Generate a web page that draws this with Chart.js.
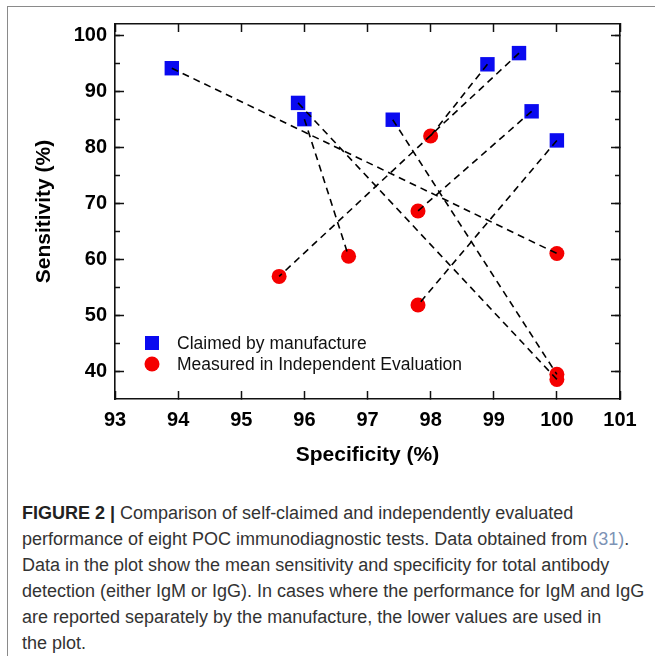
<!DOCTYPE html>
<html>
<head>
<meta charset="utf-8">
<script src="https://cdn.jsdelivr.net/npm/chart.js"></script>
<style>
  html, body { margin: 0; padding: 0; background: #fff; }
  #wrap { position: relative; width: 655px; height: 656px; overflow: hidden; }
  #frame { position: absolute; left: 7px; top: 6px; right: -5px; bottom: -5px;
           border-left: 1px solid #8a8a8a; border-top: 1px solid #8a8a8a; }
  #chart { position: absolute; left: 0; top: 0; }
  #caption { position: absolute; left: 22px; top: 500px; white-space: nowrap;
             font-family: "Liberation Sans", Arial, sans-serif; font-size: 18px;
             line-height: 26px; color: #333; }
  #caption b { color: #222; }
  #caption .ref { color: #7d93b5; }
</style>
</head>
<body>
<div id="wrap">
  <div id="frame"></div>
  <canvas id="chart" width="655" height="480"></canvas>
  <div id="caption">
    <b>FIGURE 2 |</b> Comparison of self-claimed and independently evaluated<br>
    performance of eight POC immunodiagnostic tests. Data obtained from <span class="ref">(31)</span>.<br>
    Data in the plot show the mean sensitivity and specificity for total antibody<br>
    detection (either IgM or IgG). In cases where the performance for IgM and IgG<br>
    are reported separately by the manufacture, the lower values are used in<br>
    the plot.
  </div>
</div>
<script>
// data (specificity %, sensitivity %)
const seriesNames = ['Claimed by manufacture', 'Measured in Independent Evaluation'];
const claimedSpec = [93.9, 95.9, 96.0, 97.4, 98.9, 99.4, 99.6, 100.0];
const claimedSens = [94.1, 87.9, 85.0, 84.9, 94.8, 96.8, 86.4, 81.2];
const measuredSpec = [100.0, 100.0, 96.7, 100.0, 98.0, 95.6, 97.8, 97.8];
const measuredSens = [61.0, 38.5, 60.5, 39.4, 82.0, 56.9, 68.6, 51.8];
const xTicks = [93, 94, 95, 96, 97, 98, 99, 100, 101];
const yTicks = [40, 50, 60, 70, 80, 90, 100];
const yMinorTicks = [40, 45, 50, 55, 60, 65, 70, 75, 80, 85, 90, 95, 100];

const BLUE = '#0a0af0';
const RED = '#f50000';
const FONT = '"Liberation Sans", Arial, sans-serif';

// one dashed line per test: claimed -> measured
const pairLines = claimedSpec.map((sx, i) => ({
  type: 'scatter',
  showLine: true,
  data: [{ x: sx, y: claimedSens[i] }, { x: measuredSpec[i], y: measuredSens[i] }],
  borderColor: '#000',
  borderWidth: 1.6,
  borderDash: [7, 5],
  pointRadius: 0,
  order: 0
}));

const datasets = [
  {
    label: seriesNames[0],
    data: claimedSpec.map((x, i) => ({ x: x, y: claimedSens[i] })),
    pointStyle: 'rect',
    pointRadius: 10.2,
    backgroundColor: BLUE,
    borderWidth: 0,
    order: 1
  },
  {
    label: seriesNames[1],
    data: measuredSpec.map((x, i) => ({ x: x, y: measuredSens[i] })),
    pointStyle: 'circle',
    pointRadius: 7.5,
    backgroundColor: RED,
    borderWidth: 0,
    order: 1
  }
].concat(pairLines);

function fixedTicks(list) {
  return s => { s.ticks = list.map(v => ({ value: v })); };
}
function noPad(size, isH) {
  return s => {
    if (isH) s.height = size; else s.width = size;
    s.paddingLeft = 0; s.paddingRight = 0; s.paddingTop = 0; s.paddingBottom = 0;
  };
}
const axisBorder = { color: '#111', width: 1.6 };

// legend drawn inside the plot, lower left
const insideLegend = {
  id: 'insideLegend',
  afterDraw(chart) {
    const ctx = chart.ctx, a = chart.chartArea;
    const mx = a.left + 37, tx = a.left + 62;
    const y1 = a.top + 319, y2 = a.top + 340;
    ctx.save();
    ctx.fillStyle = BLUE;
    ctx.fillRect(mx - 7, y1 - 7, 14, 14);
    ctx.fillStyle = RED;
    ctx.beginPath();
    ctx.arc(mx, y2, 7.5, 0, Math.PI * 2);
    ctx.fill();
    ctx.fillStyle = '#111';
    ctx.font = '17.5px ' + FONT;
    ctx.textBaseline = 'middle';
    ctx.fillText(seriesNames[0], tx, y1 + 1);
    ctx.fillText(seriesNames[1], tx, y2 + 1);
    ctx.restore();
  }
};

new Chart(document.getElementById('chart'), {
  type: 'scatter',
  data: { datasets: datasets },
  plugins: [insideLegend],
  options: {
    responsive: false,
    animation: false,
    devicePixelRatio: 1,
    layout: { padding: { left: 0, top: 24, right: 35, bottom: 0 } },
    plugins: { legend: { display: false }, tooltip: { enabled: false } },
    scales: {
      x: {
        type: 'linear', position: 'bottom', min: 93, max: 101, weight: 1,
        afterBuildTicks: fixedTicks(xTicks),
        afterFit: noPad(81, true),
        border: axisBorder,
        grid: { drawOnChartArea: false, tickLength: -8, tickColor: '#111', tickWidth: 1.5 },
        ticks: { padding: 17, color: '#000', autoSkip: false, maxRotation: 0,
                 font: { family: FONT, size: 20, weight: 'bold' } },
        title: { display: true, text: 'Specificity (%)', color: '#000',
                 font: { family: FONT, size: 21, weight: 'bold' }, padding: { top: 0, bottom: 12 } }
      },
      xTop: {
        type: 'linear', position: 'top', min: 93, max: 101,
        afterBuildTicks: fixedTicks(xTicks),
        afterFit: noPad(0, true),
        border: axisBorder,
        grid: { drawOnChartArea: false, tickLength: -8, tickColor: '#111', tickWidth: 1.5 },
        ticks: { display: false }
      },
      y: {
        type: 'linear', position: 'left', min: 35, max: 102, weight: 1,
        afterBuildTicks: fixedTicks(yTicks),
        afterFit: noPad(115, false),
        border: axisBorder,
        grid: { drawOnChartArea: false, tickLength: -9, tickColor: '#111', tickWidth: 1.5 },
        ticks: { padding: 17, color: '#000', autoSkip: false,
                 font: { family: FONT, size: 20, weight: 'bold' } },
        title: { display: true, text: 'Sensitivity (%)', color: '#000',
                 font: { family: FONT, size: 21, weight: 'bold' }, padding: { top: 32, bottom: 0 } }
      },
      yMinor: {
        type: 'linear', position: 'left', min: 35, max: 102, weight: 0,
        afterBuildTicks: fixedTicks(yMinorTicks),
        afterFit: noPad(0, false),
        border: { display: false },
        grid: { drawOnChartArea: false, tickLength: -5, tickColor: '#111', tickWidth: 1.5 },
        ticks: { display: false }
      },
      yRight: {
        type: 'linear', position: 'right', min: 35, max: 102, weight: 1,
        afterBuildTicks: fixedTicks(yTicks),
        afterFit: noPad(0, false),
        border: axisBorder,
        grid: { drawOnChartArea: false, tickLength: -9, tickColor: '#111', tickWidth: 1.5 },
        ticks: { display: false }
      },
      yRightMinor: {
        type: 'linear', position: 'right', min: 35, max: 102, weight: 0,
        afterBuildTicks: fixedTicks(yMinorTicks),
        afterFit: noPad(0, false),
        border: { display: false },
        grid: { drawOnChartArea: false, tickLength: -5, tickColor: '#111', tickWidth: 1.5 },
        ticks: { display: false }
      }
    }
  }
});
</script>
</body>
</html>
